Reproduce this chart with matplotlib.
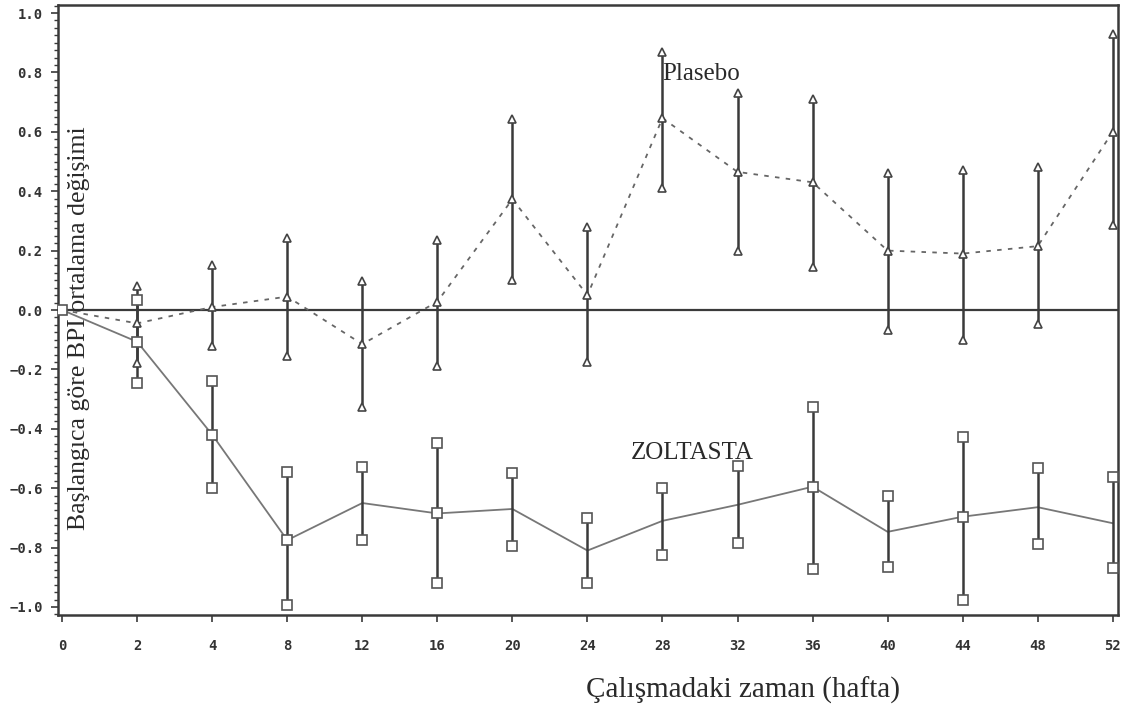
import matplotlib
matplotlib.use("Agg")
import matplotlib.pyplot as plt
import numpy as np
from matplotlib.ticker import MultipleLocator

# ---- data ----
weeks = ['0', '2', '4', '8', '12', '16', '20', '24', '28', '32', '36', '40', '44', '48', '52']

plasebo_mean  = [0.0, -0.045, 0.01, 0.045, -0.115, 0.028, 0.373, 0.05, 0.646, 0.465, 0.43, 0.20, 0.19, 0.215, 0.60]
plasebo_upper = [np.nan, 0.08, 0.15, 0.243, 0.098, 0.236, 0.643, 0.28, 0.87, 0.73, 0.71, 0.46, 0.47, 0.48, 0.93]
plasebo_lower = [np.nan, -0.18, -0.12, -0.155, -0.327, -0.188, 0.10, -0.175, 0.41, 0.20, 0.145, -0.067, -0.10, -0.047, 0.285]

zolt_mean  = [0.0, -0.107, -0.42, -0.775, -0.65, -0.685, -0.67, -0.81, -0.71, -0.656, -0.595, -0.747, -0.696, -0.664, -0.718]
zolt_upper = [np.nan, 0.034, -0.24, -0.545, -0.53, -0.447, -0.55, -0.70, -0.60, -0.525, -0.327, -0.625, -0.427, -0.533, -0.561]
zolt_lower = [np.nan, -0.245, -0.60, -0.995, -0.775, -0.92, -0.795, -0.92, -0.825, -0.785, -0.873, -0.867, -0.976, -0.789, -0.868]
zolt_mean_marker = [True, True, True, True, False, True, False, False, False, False, True, False, True, False, False]

ytick_vals = [-1.0, -0.8, -0.6, -0.4, -0.2, 0.0, 0.2, 0.4, 0.6, 0.8, 1.0]

# ---- figure ----
fig = plt.figure(figsize=(11.24, 7.09), dpi=100)
ax = fig.add_axes([58/1124, 1 - 615/709, (1118 - 58)/1124, (615 - 5)/709])

x = np.arange(len(weeks))
dark = '#3a3a3a'
tick_font = dict(family='DejaVu Sans Mono', fontsize=10, color='#333333', fontweight='bold')

# zero reference line
ax.axhline(0, color=dark, lw=1.6, zorder=1)

# Plasebo
ax.plot(x, plasebo_mean, color='#666666', lw=1.3, linestyle=(0, (2.5, 3.5)), zorder=2)
ax.vlines(x, plasebo_lower, plasebo_upper, color=dark, lw=1.8, zorder=3)
for arr in (plasebo_upper, plasebo_lower, plasebo_mean):
    ax.plot(x, arr, linestyle='none', marker='^', ms=6, mfc='white', mec='#444444', mew=1.2, zorder=4)

# ZOLTASTA
ax.plot(x, zolt_mean, color='#777777', lw=1.3, zorder=2)
ax.vlines(x, zolt_lower, zolt_upper, color=dark, lw=1.8, zorder=3)
for arr in (zolt_upper, zolt_lower):
    ax.plot(x, arr, linestyle='none', marker='s', ms=6.5, mfc='white', mec='#555555', mew=1.2, zorder=4)
mask = np.array(zolt_mean_marker)
ax.plot(x[mask], np.array(zolt_mean)[mask], linestyle='none', marker='s', ms=6.5,
        mfc='white', mec='#555555', mew=1.2, zorder=4)

# axes
ax.set_xlim(-0.055, 14.07)
ax.set_ylim(-1.027, 1.027)
ax.set_xticks(x)
ax.set_xticklabels(weeks, **tick_font)
ax.set_yticks(ytick_vals)
ax.set_yticklabels([f"{v:.1f}".replace('-', '\u2212') for v in ytick_vals], **tick_font)
ax.yaxis.set_minor_locator(MultipleLocator(0.025))
ax.tick_params(axis='x', which='major', direction='out', length=5, width=1.2, color=dark, pad=12)
ax.tick_params(axis='y', which='major', direction='out', length=5, width=1.2, color=dark, pad=6)
ax.tick_params(axis='y', which='minor', direction='out', length=3, width=1.0, color=dark)
for s in ax.spines.values():
    s.set_color(dark)
    s.set_linewidth(1.8)

serif = dict(family='Liberation Serif', color='#2a2a2a')
ax.text(8.0, 0.795, 'Plasebo', fontsize=18, ha='left', va='center', **serif)
ax.text(8.39, -0.48, 'ZOLTASTA', fontsize=18, ha='center', va='center', **serif)
ax.text(0.22, -0.06, 'Başlangıca göre BPI ortalama değişimi', fontsize=18.5, rotation=90,
        ha='center', va='center', **serif)
fig.text(743/1124, 1 - 690/709, 'Çalışmadaki zaman (hafta)', fontsize=21, ha='center', va='center', **serif)

fig.savefig('out.png', dpi=100, facecolor='white')
